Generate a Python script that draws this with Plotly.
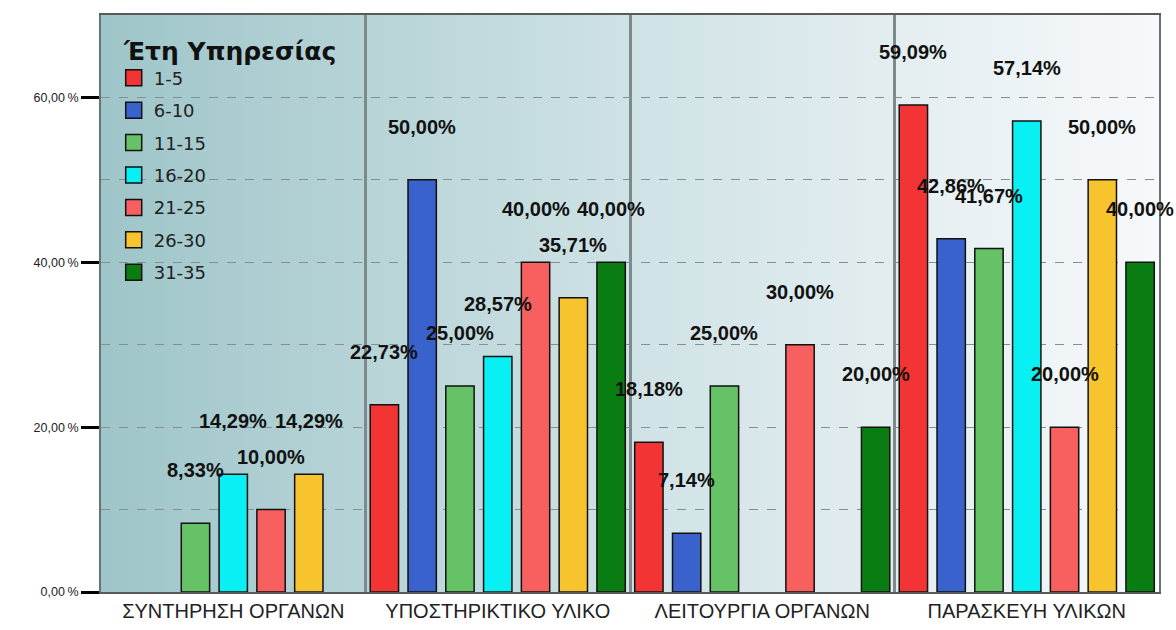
import base64
import plotly.graph_objects as go

categories = ["ΣΥΝΤΗΡΗΣΗ ΟΡΓΑΝΩΝ", "ΥΠΟΣΤΗΡΙΚΤΙΚΟ ΥΛΙΚΟ", "ΛΕΙΤΟΥΡΓΙΑ ΟΡΓΑΝΩΝ", "ΠΑΡΑΣΚΕΥΗ ΥΛΙΚΩΝ"]
series_names = ["1-5", "6-10", "11-15", "16-20", "21-25", "26-30", "31-35"]
v_1_5 = [None, 22.73, 18.18, 59.09]
v_6_10 = [None, 50.00, 7.14, 42.86]
v_11_15 = [8.33, 25.00, 25.00, 41.67]
v_16_20 = [14.29, 28.57, None, 57.14]
v_21_25 = [10.00, 40.00, 30.00, 20.00]
v_26_30 = [14.29, 35.71, None, 50.00]
v_31_35 = [None, 40.00, 20.00, 40.00]
series_values = [v_1_5, v_6_10, v_11_15, v_16_20, v_21_25, v_26_30, v_31_35]
colors = ["#f23434", "#3a62cc", "#66c266", "#08f0f4", "#f85f5f", "#f8c42e", "#0a7d12"]
legend_title = "Έτη Υπηρεσίας"

fig = go.Figure()
n = len(series_names)
for j, (name, vals, col) in enumerate(zip(series_names, series_values, colors)):
    fig.add_trace(go.Bar(
        x=categories, y=vals, name=name, marker=dict(color=col, line=dict(color="#111111", width=1.5)),
        showlegend=False, hoverinfo="skip",
    ))
for j, (name, col) in enumerate(zip(series_names, colors)):
    fig.add_trace(go.Scatter(
        x=[None], y=[None], mode="markers", name=name, legendgroup=name,
        marker=dict(symbol="square", size=24, color=col, line=dict(color="#111111", width=1.5)),
    ))

annotations = []
for j, vals in enumerate(series_values):
    for ci, v in enumerate(vals):
        if v is None:
            continue
        annotations.append(dict(
            x=ci + (j - (n - 1) / 2) / n, y=v, xref="x", yref="y",
            text=f"{v:.2f}%".replace(".", ","), showarrow=False,
            yshift=53, yanchor="middle", xanchor="center",
            font=dict(family="Liberation Sans", size=20, color="#111111", weight="bold"),
        ))

svg = ('<svg xmlns="http://www.w3.org/2000/svg" width="100" height="10" viewBox="0 0 100 10" '
       'preserveAspectRatio="none"><defs><linearGradient id="g" x1="0" x2="1" y1="0" y2="0">'
       '<stop offset="0" stop-color="#9ec5c9"/><stop offset="0.5" stop-color="#cfe2e5"/>'
       '<stop offset="1" stop-color="#f7f9fb"/></linearGradient></defs>'
       '<rect width="100" height="10" fill="url(#g)"/></svg>')
src = "data:image/svg+xml;base64," + base64.b64encode(svg.encode()).decode()

fig.update_layout(
    width=1176, height=630,
    margin=dict(l=101, r=17, t=15, b=38, autoexpand=False),
    paper_bgcolor="white", plot_bgcolor="rgba(0,0,0,0)",
    barmode="group", bargap=0.0, bargroupgap=0.25,
    separators=", ",
    font=dict(family="Liberation Sans", color="#222222"),
    images=[dict(source=src, xref="paper", yref="paper", x=0, y=1, sizex=1, sizey=1,
                 sizing="stretch", layer="below", xanchor="left", yanchor="top")],
    legend=dict(
        x=0.012, y=0.979, xanchor="left", yanchor="top", bgcolor="rgba(0,0,0,0)",
        title=dict(text="<b>\u2004" + legend_title + "</b>",
                   font=dict(family="DejaVu Sans", size=25, color="#111111")),
        font=dict(family="DejaVu Sans", size=18, color="#222222"), tracegroupgap=6,
    ),
    annotations=annotations,
    showlegend=True,
)
fig.update_xaxes(
    range=[-0.5, len(categories) - 0.5],
    tickson="boundaries", showgrid=True, gridcolor="#7d8a8c", gridwidth=3,
    showline=True, linecolor="#5a5a5a", linewidth=2, mirror=True, automargin=False,
    ticks="", tickfont=dict(size=20, color="#222222"),
)
fig.update_yaxes(
    range=[0, 70], tick0=0, dtick=20, tickformat=".2f", ticksuffix="\u2009%",
    ticks="outside", ticklen=18, tickwidth=3, tickcolor="#000000", automargin=False,
    tickfont=dict(size=12.5, color="#222222"),
    showgrid=True, gridcolor="#858f91", gridwidth=1, griddash="dash",
    minor=dict(dtick=10, showgrid=True, gridcolor="#858f91", gridwidth=1, griddash="dash", ticks=""),
    showline=True, linecolor="#6a7374", linewidth=2, mirror=True, zeroline=False,
)

fig.write_html("out.html", config={"displayModeBar": False},
               post_script="document.body.style.margin='0';document.body.style.overflow='hidden';")
